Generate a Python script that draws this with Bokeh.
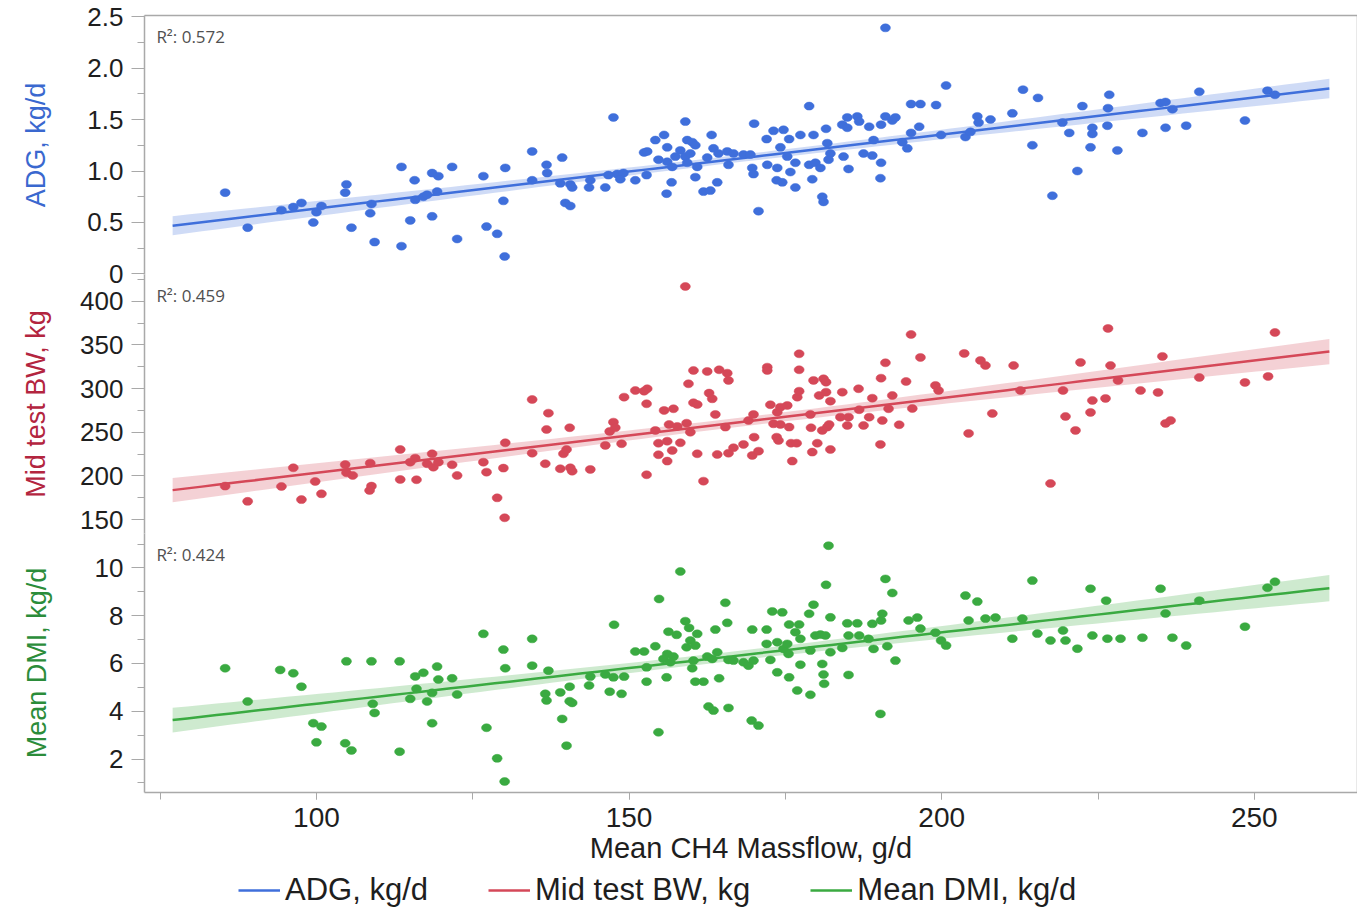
import numpy as np
from bokeh.plotting import figure
from bokeh.models import (Range1d, LinearAxis, SingleIntervalTicker, FixedTicker,
                          Legend, LegendItem, Label, NumeralTickFormatter)
from bokeh.layouts import column
from bokeh.embed import file_html
from bokeh.resources import INLINE

# ---------------- data ----------------
adg_x = [85.4, 89.0, 94.4, 96.3, 97.6, 99.5, 100.0, 100.8, 104.8, 104.6, 105.6, 108.6, 108.8, 109.3, 113.6, 113.6,
         115.0, 115.7, 115.8, 117.1, 117.7, 119.3, 118.5, 119.5, 118.5, 121.7, 122.5, 126.7, 127.2, 128.9, 129.9,
         130.1, 130.2, 134.5, 134.5, 136.8, 136.9, 139.3, 139.0, 140.6, 140.9, 139.8, 140.6, 143.8, 143.6, 146.2,
         147.5, 146.7, 148.1, 149.1, 148.6, 151.0, 152.8, 152.4, 152.9, 154.2, 155.6, 156.1, 154.7, 156.1, 156.9,
         156.8, 156.0, 159.0, 158.2, 157.4, 159.0, 159.3, 160.1, 160.6, 159.8, 159.3, 160.6, 160.9, 161.9, 163.0,
         163.2, 164.1, 163.5, 164.3, 162.5, 165.7, 166.7, 168.3, 169.4, 165.9, 169.7, 169.9, 170.0, 170.7, 172.0,
         172.1, 173.1, 174.7, 173.7, 173.6, 174.5, 174.2, 175.3, 175.6, 175.8, 176.6, 176.6, 177.4, 178.8, 179.5,
         178.8, 179.8, 179.3, 180.9, 181.1, 180.6, 181.5, 181.7, 182.2, 181.9, 184.1, 184.9, 184.9, 186.5, 186.8,
         184.3, 185.1, 187.5, 188.9, 188.4, 189.1, 190.3, 190.3, 190.2, 191.0, 191.0, 192.1, 192.6,
         193.7, 194.5, 195.1, 196.6, 195.1, 196.4, 199.1, 200.7, 199.9, 203.8, 204.6, 205.7, 205.9, 207.8, 211.3,
         213.0, 214.5, 215.4, 217.7, 219.3, 220.4, 221.7, 222.5, 224.1, 224.1, 223.8, 226.5, 226.6, 226.8, 228.1,
         232.1, 235.0, 235.8, 236.9, 235.8, 239.1, 241.2, 248.5, 252.1, 253.3]
adg_y = [0.79, 0.45, 0.62, 0.65, 0.69, 0.50, 0.60, 0.66, 0.87, 0.79, 0.45, 0.59, 0.68, 0.31, 1.04, 0.27,
         0.52, 0.91, 0.72, 0.75, 0.77, 0.80, 0.98, 0.95, 0.56, 1.04, 0.34, 0.95, 0.46, 0.39, 0.71,
         0.17, 1.03, 0.91, 1.19, 1.06, 0.98, 1.13, 0.88, 0.87, 0.84, 0.69, 0.66, 0.91, 0.84, 0.84,
         1.52, 0.96, 0.97, 0.98, 0.92, 0.91, 0.96, 1.18, 1.19, 1.30, 1.35, 1.23, 1.11, 1.09, 1.04,
         0.89, 0.78, 1.48, 1.20, 1.14, 1.14, 1.30, 1.28, 1.25, 1.17, 1.08, 0.94, 1.04, 0.80, 0.81,
         1.35, 0.89, 1.22, 1.17, 1.13, 1.19, 1.17, 1.16, 1.16, 1.06, 1.03, 0.97, 1.46, 0.61, 1.31,
         1.06, 1.39, 1.40, 1.03, 0.91, 0.89, 1.23, 1.14, 1.31, 0.99, 1.08, 0.84, 1.35, 1.63, 1.35,
         1.06, 1.08, 0.92, 0.75, 0.70, 1.03, 1.41, 1.27, 1.17, 1.11, 1.45, 1.42, 1.52, 1.53, 1.48,
         1.14, 1.02, 1.17, 1.15, 1.43, 1.30, 1.45, 1.08, 0.93, 2.39, 1.53, 1.49, 1.52,
         1.28, 1.22, 1.65, 1.65, 1.37, 1.43, 1.64, 1.83, 1.35, 1.33, 1.38, 1.53, 1.47, 1.50, 1.56,
         1.79, 1.25, 1.71, 0.76, 1.47, 1.37, 1.00, 1.63, 1.42, 1.36, 1.23, 1.44, 1.61, 1.74, 1.20,
         1.37, 1.66, 1.67, 1.60, 1.42, 1.44, 1.77, 1.49, 1.78, 1.74]

bw_x = [85.4, 89.0, 94.4, 96.3, 97.6, 99.8, 100.8, 104.6, 104.8, 105.8, 108.6, 108.8, 108.5, 113.4, 113.4,
        115.8, 115.0, 116.0, 118.5, 117.7, 118.7, 119.5, 121.7, 122.5, 126.7, 127.2, 128.9, 129.9, 130.1, 130.2,
        134.5, 134.5, 136.6, 137.1, 136.8, 139.0, 140.6, 140.9, 139.5, 140.0, 140.5, 143.8, 146.2, 146.9, 147.5,
        147.8, 148.8, 149.2, 151.0, 152.4, 152.9, 152.8, 152.8, 154.2, 154.7, 156.1, 154.7, 156.1, 156.9, 155.6,
        157.1, 156.4, 157.7, 158.2, 159.0, 159.2, 159.8, 159.5, 160.3, 160.3, 160.9, 160.9, 161.9, 162.5, 162.8,
        163.3, 163.8, 164.4, 165.7, 165.9, 164.1, 165.4, 165.9, 166.7, 168.3, 169.1, 169.9, 170.0, 169.7, 170.7,
        172.1, 172.1, 172.6, 173.1, 173.7, 174.2, 175.3, 173.6, 173.9, 174.2, 175.6, 175.9, 176.8, 176.1, 176.9,
        177.2, 177.2, 177.2, 179.0, 179.1, 179.5, 181.1, 181.5, 180.1, 179.3, 180.4, 181.5, 182.2, 180.9, 181.7,
        182.0, 182.2, 184.1, 183.8, 185.1, 184.9, 186.7, 186.8, 188.4, 187.5, 188.9, 190.3, 191.0, 190.5, 190.2,
        191.5, 192.1, 193.2,
        195.1, 196.6, 194.3, 195.3, 199.0, 199.5, 203.6, 204.3, 206.2, 207.0, 208.1, 211.5, 212.6, 217.4, 219.4,
        219.8, 221.4, 222.2, 223.8, 224.1, 226.2, 226.6, 227.0, 228.2, 231.8, 234.6, 235.3, 235.8, 236.6, 241.2,
        248.5, 252.2, 253.3]
bw_y = [188.4, 171.0, 188.0, 209.4, 173.0, 193.7, 179.6, 213.0, 203.7, 200.6, 214.7, 188.4, 183.4, 230.3, 196.0,
        220.4, 215.8, 195.7, 225.4, 214.0, 210.1, 215.8, 212.8, 200.6, 215.8, 204.4, 175.0, 209.0, 152.2, 238.0,
        287.5, 226.1, 214.0, 271.9, 253.2, 208.3, 209.4, 205.5, 225.4, 230.3, 255.2, 207.5, 235.0, 251.0, 261.6,
        255.2, 236.9, 290.2, 297.8, 297.0, 299.8, 282.6, 201.4, 252.1, 237.5, 239.8, 224.3, 217.0, 229.2, 275.0,
        276.9, 258.9, 256.7, 238.0, 416.8, 260.4, 250.1, 305.5, 320.7, 283.8, 281.8, 225.4, 194.1, 319.6, 294.8,
        288.3, 270.4, 321.5, 317.6, 309.3, 224.6, 255.9, 226.1, 232.3, 236.1, 263.5, 270.4, 244.4, 223.5, 228.4,
        324.5, 320.7, 281.5, 259.7, 273.0, 278.7, 280.7, 244.4, 240.6, 258.9, 255.9, 237.5, 237.5, 217.0, 290.2,
        297.0, 321.5, 339.8, 270.4, 255.2, 309.3, 311.2, 307.3, 237.5, 227.3, 292.1, 295.9, 285.6, 252.1, 255.9,
        258.9, 230.3, 295.9, 267.3, 267.3, 257.8, 299.8, 275.8, 267.3, 257.8, 289.0, 311.9, 329.5, 263.5, 236.1,
        276.9, 292.1, 258.6,
        361.9, 335.6, 308.1, 277.2, 303.6, 297.8, 340.2, 248.7, 332.2, 326.4, 271.5, 326.4, 297.8, 191.4, 297.8,
        268.1, 252.1, 329.9, 272.7, 286.4, 288.7, 368.8, 326.4, 309.3, 297.8, 295.6, 336.8, 260.1, 263.5, 312.7,
        307.0, 313.9, 364.2]

dmi_x = [85.4, 89.0, 94.2, 96.3, 97.6, 99.5, 100.8, 100.0, 104.8, 104.6, 105.6, 108.8, 109.0, 109.3, 113.3, 113.3,
         115.8, 117.1, 116.0, 115.0, 118.5, 118.5, 117.7, 119.3, 119.5, 121.7, 122.5, 126.7, 127.2, 128.9, 129.9,
         130.2, 130.1, 134.5, 134.5, 137.1, 136.6, 136.8, 139.0, 140.5, 139.3, 140.0, 140.5, 140.9, 143.8, 143.6,
         146.2, 147.5, 146.9, 147.6, 148.8, 149.2, 151.0, 152.4, 152.8, 152.8, 154.2, 154.7, 154.8, 156.0, 156.1,
         157.1, 155.5, 156.6, 156.3, 157.6, 158.2, 159.0, 159.6, 160.9, 159.2, 159.8, 160.6, 160.1, 160.3, 160.6,
         161.9, 162.7, 163.5, 162.5, 163.3, 164.1, 164.4, 163.8, 165.4, 165.7, 165.9, 165.9, 166.7, 168.3, 169.1,
         169.9, 169.7, 172.0, 169.6, 170.7, 172.0, 173.7, 172.6, 172.9, 174.5, 173.7, 175.6, 174.7, 175.5, 175.3,
         175.6, 177.2, 176.6, 177.4, 176.9, 177.4, 179.0, 178.8, 179.5, 179.0, 179.8, 180.6, 181.4, 180.9, 181.1,
         181.2, 181.5, 181.9, 182.2, 182.2, 184.9, 186.5, 185.1, 186.8, 184.1, 185.1, 188.3, 189.1, 188.9, 190.3,
         190.5, 190.2, 191.0, 192.1, 191.3, 192.6,
         194.7, 196.1, 196.6, 199.0, 199.9, 200.7, 203.8, 204.3, 205.7, 207.0, 208.6, 211.3, 212.9, 214.5, 215.3,
         217.4, 219.4, 219.8, 221.7, 223.8, 224.1, 226.3, 226.5, 228.6, 232.1, 235.0, 235.8, 236.9, 239.1, 241.2,
         248.5, 252.1, 253.3]
dmi_y = [5.80, 4.41, 5.73, 5.59, 5.03, 3.50, 3.36, 2.70, 6.09, 2.66, 2.36, 6.09, 4.31, 3.93, 6.09, 2.31,
         5.46, 5.61, 4.94, 4.52, 3.50, 4.77, 4.41, 5.87, 5.33, 5.38, 4.70, 7.24, 3.31, 2.03, 6.58,
         5.80, 1.06, 7.03, 5.91, 5.70, 4.73, 4.45, 4.79, 5.03, 3.68, 2.56, 4.42, 4.35, 5.45, 5.08,
         5.54, 5.42, 4.82, 7.62, 4.73, 5.45, 6.50, 6.50, 5.84, 5.24, 6.72, 3.12, 8.70, 5.42, 6.40,
         6.29, 6.19, 6.05, 7.33, 7.20, 9.85, 7.77, 7.49, 7.24, 6.68, 6.96, 6.75, 5.80, 6.12, 5.24,
         5.24, 4.20, 4.03, 6.29, 6.19, 6.47, 5.38, 7.42, 8.54, 7.70, 4.14, 6.15, 6.12, 6.05, 5.91,
         6.12, 7.42, 7.42, 3.61, 3.40, 6.82, 6.89, 6.15, 8.18, 8.14, 5.63, 5.42, 6.61, 6.40, 6.82,
         7.63, 7.63, 7.31, 7.03, 4.87, 5.95, 4.69, 8.08, 8.46, 6.54, 7.17, 7.21, 7.17, 5.98, 5.54,
         5.15, 9.29, 10.93, 7.93, 6.47, 7.68, 7.68, 7.17, 7.17, 6.65, 5.52, 7.03, 6.61, 7.66, 7.80,
         8.08, 3.89, 9.54, 8.95, 6.72, 6.12,
         7.80, 7.92, 7.46, 7.29, 6.96, 6.75, 8.84, 7.80, 8.59, 7.88, 7.92, 7.04, 7.88, 9.47, 7.25,
         6.96, 7.38, 6.96, 6.62, 9.13, 7.17, 8.63, 7.04, 7.04, 7.08, 9.13, 8.09, 7.08, 6.75, 8.63,
         7.54, 9.17, 9.42]

series_names = ["ADG, kg/d", "Mid test BW, kg", "Mean DMI, kg/d"]
r2_texts = ["R\u00b2: 0.572", "R\u00b2: 0.459", "R\u00b2: 0.424"]
x_title = "Mean CH4 Massflow, g/d"

# ---------------- style ----------------
FONT = "Liberation Sans"
GRAY = "#a9a9a9"
TEXT = "#1e1e1e"
dot_colors = ["#3f6fdb", "#d54858", "#3aaa41"]
title_colors = ["#3a68cf", "#b3253f", "#2b8c3a"]

FRAME_W, FRAME_H = 1213, 259
OVERLAP = 16
x_range = Range1d(72.5, 266.5)


def fit_band(xs, ys, grid):
    xs = np.asarray(xs, float)
    ys = np.asarray(ys, float)
    b1, b0 = np.polyfit(xs, ys, 1)
    n = len(xs)
    resid = ys - (b0 + b1 * xs)
    s = np.sqrt(np.sum(resid ** 2) / (n - 2))
    xbar = xs.mean()
    sxx = np.sum((xs - xbar) ** 2)
    yfit = b0 + b1 * grid
    se = s * np.sqrt(1.0 / n + (grid - xbar) ** 2 / sxx)
    return yfit, yfit - 1.97 * se, yfit + 1.97 * se


def style_frame_axis(ax):
    ax.major_label_text_font_size = "0px"
    ax.major_tick_line_color = None
    ax.minor_tick_line_color = None
    ax.axis_line_color = GRAY
    ax.axis_line_width = 1.5
    ax.major_label_standoff = 0


def panel(xs, ys, idx, yr, interval, standoff, fmt, top=False, bottom=False):
    kw = {}
    if not top:
        kw["margin"] = (-OVERLAP, 0, 0, 0)
    p = figure(frame_width=FRAME_W, frame_height=FRAME_H, x_range=x_range,
               y_range=Range1d(*yr), output_backend="svg", toolbar_location=None,
               x_axis_location="below" if bottom else None,
               min_border_left=144, min_border_right=0,
               min_border_top=15 if top else 0,
               min_border_bottom=0 if bottom else OVERLAP,
               outline_line_color=None, background_fill_alpha=0,
               border_fill_alpha=0, **kw)
    p.grid.visible = False

    color = dot_colors[idx]
    grid = np.linspace(77.0, 262.0, 80)
    yfit, lo, hi = fit_band(xs, ys, grid)
    p.varea(x=grid, y1=lo, y2=hi, fill_color=color, fill_alpha=0.25)
    p.line(x=grid, y=yfit, line_color=color, line_width=2.5)
    p.ellipse(x=xs, y=ys, width=10, height=8, width_units="screen", height_units="screen",
              fill_color=color, line_color=color, line_width=0.5)

    ya = p.yaxis[0]
    ya.ticker = SingleIntervalTicker(interval=interval, num_minor_ticks=2)
    ya.formatter = NumeralTickFormatter(format=fmt)
    if fmt == "0.0":
        ya.major_label_overrides = {0: "0"}
    ya.axis_label = series_names[idx]
    ya.axis_label_text_color = title_colors[idx]
    ya.axis_label_text_font = FONT
    ya.axis_label_text_font_size = "27px"
    ya.axis_label_text_font_style = "normal"
    ya.axis_label_standoff = standoff
    ya.major_label_text_font = FONT
    ya.major_label_text_font_size = "26px"
    ya.major_label_text_color = TEXT
    ya.major_label_standoff = 8
    ya.major_tick_out = 13
    ya.major_tick_in = 0
    ya.minor_tick_out = 7
    ya.minor_tick_in = 0
    ya.major_tick_line_color = GRAY
    ya.minor_tick_line_color = GRAY
    ya.axis_line_color = GRAY
    ya.axis_line_width = 1.5

    right = LinearAxis(ticker=FixedTicker(ticks=[]))
    style_frame_axis(right)
    p.add_layout(right, "right")
    if top:
        above = LinearAxis(ticker=FixedTicker(ticks=[]))
        style_frame_axis(above)
        p.add_layout(above, "above")

    span = yr[1] - yr[0]
    p.add_layout(Label(x=74.4, y=yr[1] - 0.081 * span, text=r2_texts[idx],
                       text_font="Open Sans", text_font_size="17px", text_color="#505050",
                       text_baseline="middle", text_align="left"))
    return p


p1 = panel(adg_x, adg_y, 0, (-0.005, 2.51), 0.5, 33, "0.0", top=True)
p2 = panel(bw_x, bw_y, 1, (134.2, 430.5), 50, 26, "0")
p3 = panel(dmi_x, dmi_y, 2, (0.6, 11.44), 2, 40, "0", bottom=True)

xa = p3.xaxis[0]
xa.ticker = SingleIntervalTicker(interval=50, num_minor_ticks=2)
xa.axis_label = x_title
xa.axis_label_text_font = FONT
xa.axis_label_text_font_size = "29px"
xa.axis_label_text_font_style = "normal"
xa.axis_label_text_color = TEXT
xa.axis_label_standoff = 2
xa.major_label_text_font = FONT
xa.major_label_text_font_size = "28px"
xa.major_label_text_color = TEXT
xa.major_label_standoff = 8
xa.major_tick_out = 7
xa.major_tick_in = 0
xa.minor_tick_out = 7
xa.minor_tick_in = 0
xa.major_tick_line_color = GRAY
xa.minor_tick_line_color = GRAY
xa.axis_line_color = GRAY
xa.axis_line_width = 1.5

# legend strip; proxy lines lie outside its (0..1) ranges so only the legend shows them
pl = figure(frame_width=1368, frame_height=38, x_range=Range1d(0, 1), y_range=Range1d(0, 1),
            output_backend="svg", toolbar_location=None, x_axis_location=None,
            y_axis_location=None, min_border=0, outline_line_color=None,
            background_fill_alpha=0, border_fill_alpha=0, margin=(4, 0, 0, 0))
pl.grid.visible = False
items = []
for i, name in enumerate(series_names):
    r = pl.line(x=[5, 6], y=[5, 5], line_color=dot_colors[i], line_width=2.5)
    items.append(LegendItem(label=name, renderers=[r]))
legend = Legend(items=items, orientation="horizontal", location=(238, 0),
                label_text_font=FONT, label_text_font_size="31px", label_text_color=TEXT,
                glyph_width=42, glyph_height=30, label_standoff=5, spacing=60,
                padding=0, margin=0, border_line_color=None, background_fill_alpha=0)
pl.add_layout(legend)

layout = column(p1, p2, p3, pl, spacing=0)
open("out.html", "w").write(file_html(layout, INLINE))
